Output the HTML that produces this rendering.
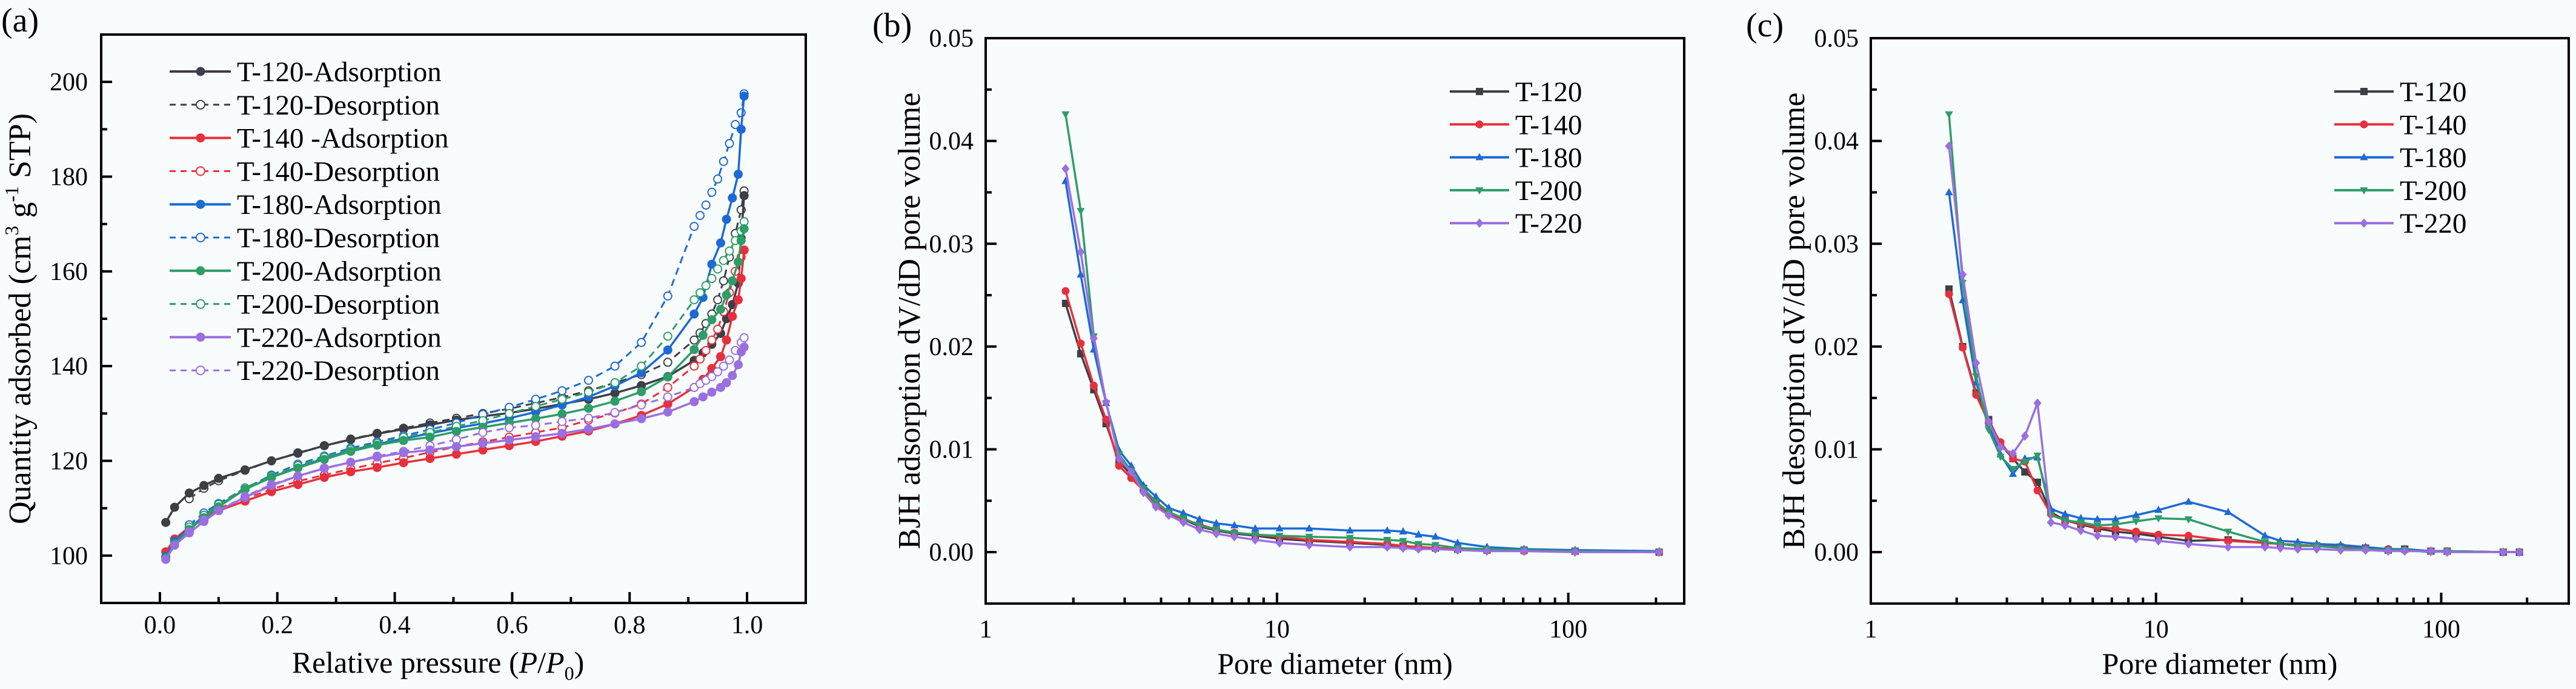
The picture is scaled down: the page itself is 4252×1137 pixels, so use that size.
<!DOCTYPE html>
<html><head><meta charset="utf-8"><style>
html,body{margin:0;padding:0;background:#f9fcfd;}
svg{display:block;font-family:"Liberation Serif",serif;}
</style></head><body>
<svg id="fig" width="4252" height="1137" viewBox="0 0 4252 1137">
<rect x="0" y="0" width="4252" height="1137" fill="#f9fcfd"/>
</svg>
<script>
// ---------- Panel (a) data ----------
const adsX = [0.01,0.025,0.05,0.075,0.1,0.145,0.19,0.235,0.28,0.325,0.37,0.415,0.46,0.505,0.55,0.595,0.64,0.685,0.73,0.775,0.82,0.865,0.91,0.925,0.94,0.955,0.965,0.975,0.985,0.99,0.995];
const desX = [0.05,0.075,0.1,0.145,0.19,0.235,0.28,0.325,0.37,0.415,0.46,0.505,0.55,0.595,0.64,0.685,0.73,0.775,0.82,0.865,0.91,0.92,0.93,0.94,0.95,0.96,0.97,0.98,0.99,0.995];
const ads120 = [107,110.2,113.2,114.8,116.3,118.1,120,121.6,123.2,124.5,125.7,126.7,127.6,128.6,129.4,130.1,131,132,133,134.3,135.9,137.8,141.2,142.8,144.6,146.9,150,153,157.5,167,176];
const des120 = [112,114.2,115.8,118,120,121.7,123.2,124.6,125.8,126.9,128,129,130,131,132.2,133.4,134.8,136.5,138.2,140.8,145.5,147,149,151,154,158,163,168,173,177];
const ads140 = [100.8,103.5,106,108,109.5,111.5,113.5,115,116.5,117.7,118.6,119.6,120.5,121.4,122.3,123.2,124.1,125.2,126.3,127.8,129.6,132,135.5,137.2,139.5,142,145.5,150.5,154,158.5,164.5];
const des140 = [106,108.2,110,112,114,115.7,117,118.3,119.5,120.6,121.8,123,124,125,126,127,128.6,130.1,132,135.5,140,141.5,143.3,145.5,147.8,151.5,155.5,160,163,164.5];
const ads180 = [99.8,103,105.8,108.3,110.5,114,116.5,118.7,120.5,122.2,123.5,124.7,125.8,126.9,127.9,129,130.3,131.8,133.5,135.8,138.6,143.4,151,154.5,161.5,166,171,175.5,180.5,190,197];
const des180 = [106.5,109,111,114.2,117,119.3,121,122.7,124,125.3,126.6,128,129.8,131.3,133,134.8,137,140,145,154.8,169.5,171.8,174,176.7,179.5,183.2,187,191,193.5,197.5];
const ads200 = [99.5,102.5,105.5,108,110.3,114,116.5,118.5,120.3,122,123.3,124.3,125,126.2,127.1,128,128.9,129.9,131.1,132.6,134.6,137.7,143.5,146.5,149.8,152,155,158,162,166.5,169];
const des200 = [106,108.5,110.8,114.3,116.8,119,120.8,122.4,123.7,125,126,127.3,128.5,130,131.5,133,134.5,136.5,140,146.3,154,155.5,157,158.5,160.5,162.3,164.3,166.5,168.5,170.5];
const ads220 = [99.2,102.2,104.8,107.2,109.5,112.3,114.8,116.8,118.4,119.7,120.8,121.7,122.3,123,123.7,124.4,125.1,125.8,126.7,127.8,128.9,130.3,132.5,133.5,134.5,135.5,136.5,138,140.3,143,144];
const des220 = [105,107.5,109.5,112.5,115,116.8,118.5,119.7,121,122,123.2,124.5,126,127,127.5,128.3,129,130.2,131.8,133.5,135.5,136.3,137,137.8,138.8,140,141.3,143.3,145,146];
const aXTicks = [0,0.2,0.4,0.6,0.8,1.0];
const aXTickLabels = ["0.0","0.2","0.4","0.6","0.8","1.0"];
const aYTicks = [100,120,140,160,180,200];
const aLegendLabels = ["T-120-Adsorption","T-120-Desorption","T-140 -Adsorption","T-140-Desorption","T-180-Adsorption","T-180-Desorption","T-200-Adsorption","T-200-Desorption","T-220-Adsorption","T-220-Desorption"];

// ---------- Panel (b) data ----------
const bX = [1.88,2.12,2.35,2.59,2.87,3.16,3.48,3.84,4.25,4.77,5.42,6.19,7.14,8.42,10.2,12.9,17.8,23.9,27.1,30.6,35,41.7,52.6,70.5,105.5,205];
const b120 = [0.0242,0.0193,0.0158,0.0125,0.0088,0.0075,0.0062,0.0049,0.0039,0.0032,0.0025,0.0021,0.0018,0.0016,0.0013,0.0011,0.0009,0.0007,0.0006,0.0005,0.0004,0.0003,0.0002,0.0002,0.0001,0];
const b140 = [0.0254,0.0203,0.0162,0.0129,0.0084,0.0072,0.006,0.0047,0.0037,0.0032,0.0027,0.0022,0.0019,0.0017,0.0015,0.0012,0.001,0.0008,0.0006,0.0005,0.0004,0.0003,0.0002,0.0001,0.0001,0];
const b180 = [0.0361,0.027,0.0197,0.0145,0.0099,0.0084,0.0065,0.0054,0.0043,0.0038,0.0032,0.0028,0.0026,0.0023,0.0023,0.0023,0.0021,0.0021,0.002,0.0017,0.0015,0.0009,0.0005,0.0003,0.0002,0.0001];
const b200 = [0.0426,0.0332,0.021,0.0145,0.0095,0.0079,0.0062,0.0049,0.0039,0.0033,0.0026,0.0022,0.0019,0.0017,0.0016,0.0015,0.0014,0.0012,0.0011,0.0008,0.0007,0.0004,0.0003,0.0002,0.0001,0];
const b220 = [0.0373,0.0292,0.0208,0.0146,0.0091,0.0078,0.0058,0.0044,0.0036,0.0029,0.0022,0.0018,0.0015,0.0012,0.0009,0.0007,0.0005,0.0005,0.0004,0.0003,0.0003,0.0002,0.0001,0.0001,0,0];

// ---------- Panel (c) data ----------
const cX = [1.88,2.1,2.34,2.59,2.85,3.15,3.47,3.84,4.28,4.8,5.45,6.23,7.21,8.51,10.2,13,17.9,24.1,27.3,31.4,36.6,44.4,54.3,65.2,74.5,92,105,165,188];
const c120 = [0.0256,0.02,0.0155,0.0129,0.0105,0.0091,0.0078,0.0068,0.0039,0.0031,0.0027,0.0023,0.002,0.0018,0.0015,0.0011,0.0012,0.0009,0.0008,0.0007,0.0006,0.0005,0.0004,0.0002,0.0003,0.0001,0.0001,0,0];
const c140 = [0.0251,0.0199,0.0153,0.0126,0.0107,0.0091,0.0088,0.006,0.0037,0.0031,0.0028,0.0024,0.0023,0.002,0.0017,0.0016,0.0011,0.0009,0.0008,0.0007,0.0006,0.0005,0.0004,0.0003,0.0002,0.0001,0.0001,0,0];
const c180 = [0.035,0.0245,0.0165,0.0125,0.0095,0.0076,0.0091,0.0092,0.0042,0.0037,0.0033,0.0032,0.0032,0.0036,0.0041,0.0049,0.0039,0.0016,0.0011,0.001,0.0008,0.0007,0.0005,0.0003,0.0003,0.0001,0.0001,0,0];
const c200 = [0.0426,0.0262,0.0171,0.0119,0.0093,0.0081,0.0088,0.0094,0.0036,0.0031,0.0029,0.0026,0.0027,0.003,0.0033,0.0032,0.002,0.001,0.0008,0.0006,0.0006,0.0004,0.0003,0.0002,0.0002,0,0.0001,0,0];
const c220 = [0.0395,0.027,0.0184,0.0127,0.0102,0.0096,0.0113,0.0145,0.0029,0.0026,0.0021,0.0016,0.0015,0.0013,0.0011,0.0008,0.0005,0.0005,0.0004,0.0003,0.0003,0.0002,0.0002,0.0001,0.0001,0.0001,0,0,0];
const psdYTicks = [0,0.01,0.02,0.03,0.04,0.05];
const psdYTickLabels = ["0.00","0.01","0.02","0.03","0.04","0.05"];
const psdXTicks = [1,10,100];
const psdNames = ["T-120","T-140","T-180","T-200","T-220"];

const COLORS = ["#3d3f47","#e8303c","#1c6ad6","#2e9d68","#9a6fe0"];
const NS = "http://www.w3.org/2000/svg";
const svg = document.getElementById('fig');
function mk(tag, attrs, parent){
  const e = document.createElementNS(NS, tag);
  for (const k in attrs) e.setAttribute(k, attrs[k]);
  (parent||svg).appendChild(e);
  return e;
}
function linScale(d0,d1,r0,r1){return v=>r0+(v-d0)/(d1-d0)*(r1-r0);}
function logScale(d0,d1,r0,r1){return v=>r0+(Math.log10(v)-Math.log10(d0))/(Math.log10(d1)-Math.log10(d0))*(r1-r0);}

function marker(g, shape, cx, cy, s, color, filled){
  let e;
  const fill = filled ? color : "#ffffff";
  if (shape==="circle") e = mk('circle',{cx:cx,cy:cy,r:s,fill:fill,stroke:color,'stroke-width':filled?1:2},g);
  else if (shape==="square") e = mk('rect',{x:cx-s,y:cy-s,width:2*s,height:2*s,fill:color},g);
  else if (shape==="tri") e = mk('polygon',{points:`${cx},${cy-s*1.2} ${cx-s*1.1},${cy+s*0.8} ${cx+s*1.1},${cy+s*0.8}`,fill:color},g);
  else if (shape==="tridown") e = mk('polygon',{points:`${cx},${cy+s*1.2} ${cx-s*1.1},${cy-s*0.8} ${cx+s*1.1},${cy-s*0.8}`,fill:color},g);
  else e = mk('polygon',{points:`${cx},${cy-s*1.3} ${cx+s*1.1},${cy} ${cx},${cy+s*1.3} ${cx-s*1.1},${cy}`,fill:color},g);
  return e;
}

// ================= Panel (a) =================
(function(){
  const L=167,R=1330,T=57,B=995;
  const sx=linScale(-0.1,1.1,L,R), sy=linScale(90,210,B,T);
  const g = mk('g',{});
  
  
  const lab = mk('text',{x:2,y:52,'font-size':56},g); lab.textContent="(a)";
   
  aYTicks.forEach((v,i)=>{
    const y=sy(v);
    mk('line',{x1:L,x2:L+18,y1:y,y2:y,stroke:'#000','stroke-width':4},g);
    const t=mk('text',{x:145,y:y+14,'font-size':42,'text-anchor':'end'},g); t.textContent=v;
     
  });
  for(let v=90;v<=210;v+=10){ if(v%20!==0){const y=sy(v); mk('line',{x1:L,x2:L+10,y1:y,y2:y,stroke:'#000','stroke-width':4},g);} }
  aXTicks.forEach((v,i)=>{
    const x=sx(v);
    mk('line',{x1:x,x2:x,y1:B,y2:B-18,stroke:'#000','stroke-width':4},g);
    const t=mk('text',{x:x,y:1045,'font-size':42,'text-anchor':'middle'},g); t.textContent=aXTickLabels[i];
     
  });
  for(let k=-1;k<=11;k+=2){const x=sx(k/10); mk('line',{x1:x,x2:x,y1:B,y2:B-10,stroke:'#000','stroke-width':4},g);}
  const A=[ads120,ads140,ads180,ads200,ads220], D=[des120,des140,des180,des200,des220];
  const names=["t-120","t-140","t-180","t-200","t-220"];
  for(let s=0;s<5;s++){
    const c=COLORS[s];
    const gd=mk('g',{},g);
     
    mk('polyline',{points:desX.map((x,i)=>sx(x)+','+sy(D[s][i])).join(' '),fill:'none',stroke:c,'stroke-width':3,'stroke-dasharray':'12,8'},gd);
    desX.forEach((x,i)=>{marker(gd,'circle',sx(x),sy(D[s][i]),6.5,c,false);});
    const ga=mk('g',{},g);
     
    mk('polyline',{points:adsX.map((x,i)=>sx(x)+','+sy(A[s][i])).join(' '),fill:'none',stroke:c,'stroke-width':3.5},ga);
    adsX.forEach((x,i)=>{marker(ga,'circle',sx(x),sy(A[s][i]),7,c,true);});
  }
  aLegendLabels.forEach((lbl,i)=>{
    const y=118+i*54.8, c=COLORS[Math.floor(i/2)], ads=i%2===0;
    const lg=mk('g',{},g);
     
    mk('line',{x1:280,x2:381,y1:y,y2:y,stroke:c,'stroke-width':ads?4:3,'stroke-dasharray':ads?'none':'10,8'},lg);
    marker(lg,'circle',331,y,7,c,ads);
    const t=mk('text',{x:391,y:y+16,'font-size':47},lg); t.textContent=lbl;
  });
  mk('rect',{x:L,y:T,width:R-L,height:B-T,fill:'none',stroke:'#000','stroke-width':4},g);
  const yt=mk('text',{transform:`translate(50,${(T+B)/2}) rotate(-90)`,'font-size':52,'text-anchor':'middle'},g);
   
  yt.innerHTML='Quantity adsorbed (cm<tspan font-size="32" dy="-20">3</tspan><tspan dy="20"> g</tspan><tspan font-size="32" dy="-20">-1</tspan><tspan dy="20"> STP)</tspan>';
  const xt=mk('text',{x:723,y:1110,'font-size':50,'text-anchor':'middle'},g);
   
  xt.innerHTML='Relative pressure (<tspan font-style="italic">P</tspan>/<tspan font-style="italic">P</tspan><tspan font-size="32" dy="12">0</tspan><tspan dy="-12">)</tspan>';
})();

// ================= Panels (b),(c) =================
function psdPanel(id,label,L,R,T,B,xmax,X,series,legX,ytitle,labX,ytx){
  const sx=logScale(1,xmax,L,R), sy=linScale(-0.005,0.05,B,T);
  const g=mk('g',{});
  
  
  const lab=mk('text',{x:labX,y:60,'font-size':56},g); lab.textContent=label;
   
  psdYTicks.forEach((v,i)=>{
    const y=sy(v);
    mk('line',{x1:L,x2:L+18,y1:y,y2:y,stroke:'#000','stroke-width':4},g);
    const t=mk('text',{x:L-20,y:y+14,'font-size':42,'text-anchor':'end'},g); t.textContent=psdYTickLabels[i];
     
  });
  for(let k=0;k<5;k++){const y=sy(0.005+k*0.01); mk('line',{x1:L,x2:L+10,y1:y,y2:y,stroke:'#000','stroke-width':4},g);}
  psdXTicks.forEach(v=>{
    const x=sx(v);
    mk('line',{x1:x,x2:x,y1:B,y2:B-18,stroke:'#000','stroke-width':4},g);
    const t=mk('text',{x:x,y:1052,'font-size':42,'text-anchor':'middle'},g); t.textContent=v;
     
  });
  for(let d=1;d<=100;d*=10) for(let m=2;m<=9;m++){const v=d*m; if(v<xmax){const x=sx(v); mk('line',{x1:x,x2:x,y1:B,y2:B-10,stroke:'#000','stroke-width':4},g);}}
  const shapes=["square","circle","tri","tridown","diamond"];
  for(let s=0;s<5;s++){
    const c=COLORS[s];
    const gs=mk('g',{},g);
     
    mk('polyline',{points:X.map((x,i)=>sx(x)+','+sy(series[s][i])).join(' '),fill:'none',stroke:c,'stroke-width':3.5},gs);
    X.forEach((x,i)=>marker(gs,shapes[s],sx(x),sy(series[s][i]),6,c,true));
  }
  psdNames.forEach((n,i)=>{
    const y=151+i*54.3, c=COLORS[i];
    const lg=mk('g',{},g);
     
    mk('line',{x1:legX,x2:legX+98,y1:y,y2:y,stroke:c,'stroke-width':4},lg);
    marker(lg,shapes[i],legX+49,y,6,c,true);
    const t=mk('text',{x:legX+108,y:y+16,'font-size':47},lg); t.textContent=n;
  });
  mk('rect',{x:L,y:T,width:R-L,height:B-T,fill:'none',stroke:'#000','stroke-width':4},g);
  const yt=mk('text',{transform:`translate(${ytx},${(T+B)/2}) rotate(-90)`,'font-size':52,'text-anchor':'middle'},g);
  yt.textContent=ytitle;
   
  const xt=mk('text',{x:(L+R)/2,y:1112,'font-size':50,'text-anchor':'middle'},g);
  xt.textContent='Pore diameter (nm)';
   
}
psdPanel('b','(b)',1627,2780,63,996,250,bX,[b120,b140,b180,b200,b220],2393,'BJH adsorption dV/dD pore volume',1440,1518);
psdPanel('c','(c)',3088,4240,63,996,280,cX,[c120,c140,c180,c200,c220],3853,'BJH desorption dV/dD pore volume',2882,2978);
</script>
</body></html>
